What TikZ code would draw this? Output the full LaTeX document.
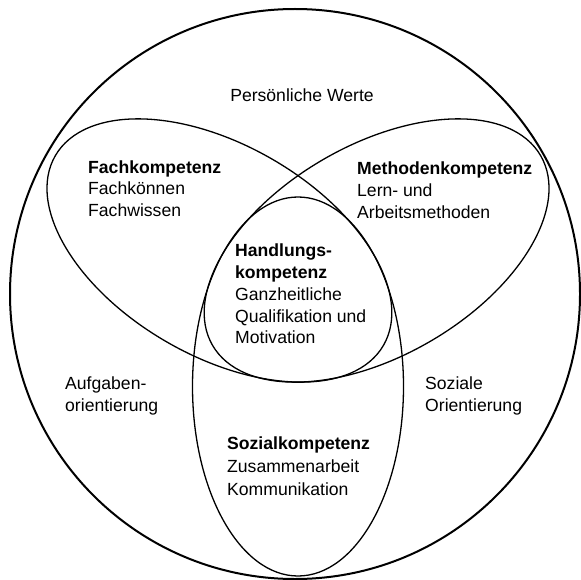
\documentclass[tikz,border=0pt]{standalone}
\usepackage{fontspec}
\setmainfont{Liberation Sans}
\usetikzlibrary{shapes.geometric}
\begin{document}
\begin{tikzpicture}[x=1pt,y=-1pt,
  ring/.style={draw=black, line width=1.3pt, inner sep=0pt, outer sep=0pt},
  lbl/.style={anchor=base west, inner sep=0pt, font=\fontsize{17.6}{22}\selectfont},
  lblb/.style={anchor=base west, inner sep=0pt, font=\fontsize{17.6}{22}\selectfont\bfseries}]
\fill[white] (0,0) rectangle (580,580);
\useasboundingbox (0,0) rectangle (580,580);
% outer circle
\node[circle, ring, line width=2pt, minimum size=570pt] (werte) at (295,294) {};
% three ellipses
\node[ellipse, ring, minimum width=379pt, minimum height=211pt, rotate=-30] (fach) at (219.4,250.5) {};
\node[ellipse, ring, minimum width=379pt, minimum height=211pt, rotate=30] (methode) at (376.6,250.5) {};
\node[ellipse, ring, minimum width=211pt, minimum height=379pt] (sozial) at (298,386.5) {};
% texts
\node[lbl, anchor=base] (tw) at (302,102) {Persönliche Werte};
\node[lblb] (tf1) at (88,173) {Fachkompetenz};
\node[lbl] (tf2) at (88,194.5) {Fachkönnen};
\node[lbl] (tf3) at (88,216) {Fachwissen};
\node[lblb] (tm1) at (357,174) {Methodenkompetenz};
\node[lbl] (tm2) at (357,196) {Lern- und};
\node[lbl] (tm3) at (357,218) {Arbeitsmethoden};
\node[lblb] (th1) at (235,256) {Handlungs-};
\node[lblb] (th2) at (235,278) {kompetenz};
\node[lbl] (th3) at (235,300) {Ganzheitliche};
\node[lbl] (th4) at (235,322) {Qualifikation und};
\node[lbl] (th5) at (235,343) {Motivation};
\node[lbl] (ta1) at (65,389) {Aufgaben-};
\node[lbl] (ta2) at (65,411) {orientierung};
\node[lbl] (to1) at (425,389) {Soziale};
\node[lbl] (to2) at (425,411) {Orientierung};
\node[lblb] (ts1) at (227,449) {Sozialkompetenz};
\node[lbl] (ts2) at (227,472) {Zusammenarbeit};
\node[lbl] (ts3) at (227,495) {Kommunikation};
\end{tikzpicture}
\end{document}
